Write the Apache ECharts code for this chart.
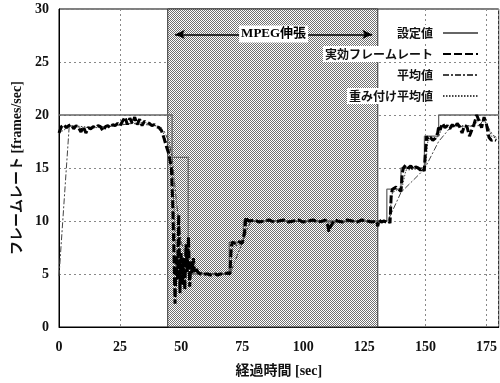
<!DOCTYPE html>
<html>
<head>
<meta charset="utf-8">
<script src="https://cdn.jsdelivr.net/npm/echarts@6/dist/echarts.min.js"></script>
<style>html,body{margin:0;padding:0;background:#fff;}#c{width:500px;height:383px;}</style>
</head>
<body>
<div id="c"></div>
<script>
// ---- data ----
var seriesNames = ['設定値', '実効フレームレート', '平均値', '重み付け平均値'];
var xTicks = [0, 25, 50, 75, 100, 125, 150, 175];
var yTicks = [0, 5, 10, 15, 20, 25, 30];

var setTime = [0, 46.3, 46.3, 52.9, 52.9, 69.7, 69.7, 75.5, 75.5, 134.2, 134.2, 140, 140, 149.6, 149.6, 155.4, 155.4, 180];
var setRate = [20, 20, 16, 16, 5, 5, 8, 8, 10, 10, 13, 13, 15, 15, 18, 18, 20, 20];

var actTime = [0,1,2,3,4,5,6,7,8,9,10,11,12,13,14,15,16,17,18,19,20,21,22,23,24,25,26,27,28,29,30,31,32,33,34,35,36,37,38,39,40,41,42,43,44,45,46,
  46.5,47,47.5,48,48.5,49,49.5,50,50.5,51,51.5,52,52.5,53,53.5,54,54.5,55,55.5,56,
  57,58,59,60,61,62,63,64,65,66,67,68,69,70,
  70.5,71,72,73,74,75,75.5,76,76.5,77,
  78,80,82,84,86,88,90,92,94,96,98,100,102,104,106,108,109,110,110.5,111,112,113,114,116,118,120,122,124,126,128,130,130.5,131,132,133,
  134,135,135.5,136,136.5,137,138,139,140,140.5,141,142,143,144,145,146,147,148,149,149.5,150,150.5,151,152,153,154,155,155.5,156,157,158,159,160,161,162,163,164,165,166,167,168,169,170,171,172,173,174,175,176,177,178,179];
var actRate = [18.3,18.9,19.1,18.8,19.0,19.1,18.7,19.0,18.8,18.4,18.9,18.3,18.8,18.7,18.9,18.8,19.0,18.9,18.5,18.9,19.0,18.8,19.1,19.0,19.2,19.0,19.4,19.8,19.1,19.7,19.2,19.8,19.1,19.6,19.0,19.4,19.3,19.2,19.0,19.1,18.9,18.8,18.5,17.8,17.0,16.3,15.0,
  12.0,7.5,2.2,6.8,4.5,10.6,3.2,7.0,4.0,6.5,3.5,7.8,5.2,8.5,3.8,6.2,5.0,6.5,5.2,5.6,
  5.1,5.0,4.9,5.0,5.0,4.9,5.0,5.0,4.9,5.0,5.0,5.0,5.1,5.0,
  7.6,8.0,7.9,8.1,8.0,7.9,8.0,9.0,10.4,10.1,
  10.0,10.1,9.9,10.0,10.1,9.9,10.0,10.1,9.9,10.0,10.1,9.9,10.0,10.1,9.9,10.0,10.1,9.6,9.0,9.4,9.8,10.1,10.0,9.9,10.1,10.0,9.9,10.1,10.0,9.9,10.0,9.5,10.1,9.9,10.0,
  9.9,10.0,9.8,12.5,13.0,12.9,13.2,13.0,12.8,14.5,15.0,15.3,15.0,15.2,14.9,15.1,15.0,14.8,15.0,14.7,16.5,18.0,17.7,17.9,17.6,17.8,18.3,19.0,18.6,19.2,18.8,19.0,18.7,19.1,18.8,19.2,18.9,18.3,19.0,18.9,18.0,18.6,19.2,20.0,19.4,18.8,19.8,19.1,17.9,17.6,17.7,17.6];

var avgTime = [0, 4.2, 10, 20, 30, 40, 43, 45, 46.3, 48, 50, 53, 56, 60, 70, 78.5, 90, 110, 130, 134.6, 140, 149.6, 155.4, 160.5, 165, 172, 174, 177.5, 179];
var avgRate = [4.8, 19.0, 18.8, 18.9, 19.2, 19.0, 18.5, 17.5, 16.0, 12.0, 8.0, 6.0, 5.3, 5.0, 5.0, 10.0, 10.0, 9.9, 10.0, 10.0, 12.7, 14.9, 17.5, 18.9, 18.9, 19.0, 19.6, 18.1, 17.9];

var wavgTime = [0, 5, 15, 25, 35, 42, 45, 46.5, 48, 50, 52, 54, 57, 70, 71, 75.5, 77, 110, 111, 113, 135, 136.5, 140.5, 142, 150, 151, 155.5, 157, 170, 172, 175, 177, 179];
var wavgRate = [18.3, 19.0, 18.8, 19.1, 19.3, 18.8, 16.8, 14.0, 7.0, 6.0, 6.0, 5.5, 5.1, 5.0, 7.5, 8.0, 10.0, 10.0, 9.3, 9.9, 10.0, 12.7, 13.2, 14.8, 15.0, 17.6, 18.0, 19.0, 19.0, 19.6, 19.2, 18.0, 17.8];

var mpegStart = 44.5, mpegEnd = 130.5;
var arrowFrom = 47.5, arrowTo = 128.2, arrowLevel = 27.6;
var mpegLabel = 'MPEG伸張';

function pairs(t, v) { return t.map(function (x, i) { return [x, v[i]]; }); }

// dotted halftone pattern
var pc = document.createElement('canvas');
pc.width = 2; pc.height = 2;
var pctx = pc.getContext('2d');
pctx.fillStyle = '#ffffff'; pctx.fillRect(0, 0, 2, 2);
pctx.fillStyle = '#707070';
pctx.fillRect(0, 0, 1, 1); pctx.fillRect(1, 1, 1, 1);

var serifCJK = '"Liberation Serif", "Noto Sans CJK JP", serif';
var sansCJK = '"Noto Sans CJK JP", sans-serif';

var chart = echarts.init(document.getElementById('c'), null, {renderer: 'canvas'});
chart.setOption({
  animation: false,
  backgroundColor: '#fff',
  grid: {left: 59, right: 1, top: 9, bottom: 51, show: true, borderColor: '#000', borderWidth: 1, backgroundColor: 'transparent'},
  legend: {
    orient: 'vertical', right: 16, top: 20, align: 'right',
    itemWidth: 35, itemHeight: 12, itemGap: 5,
    data: seriesNames,
    itemStyle: {opacity: 0},
    textStyle: {fontFamily: sansCJK, fontSize: 12, fontWeight: 'bold', color: '#111', backgroundColor: '#fff', padding: [2, 5, 2, 2]}
  },
  xAxis: {
    type: 'value', min: 0, max: 180, interval: 25,
    name: '経過時間 [sec]', nameLocation: 'middle', nameGap: 37,
    nameTextStyle: {fontFamily: serifCJK, fontSize: 14, fontWeight: 'bold', color: '#111'},
    axisLine: {show: true, lineStyle: {color: '#000', width: 1}},
    axisTick: {show: false},
    axisLabel: {fontFamily: '"Liberation Serif", serif', fontSize: 14, fontWeight: 'bold', color: '#111', margin: 13, showMaxLabel: false,
      formatter: function (v) { return xTicks.indexOf(v) >= 0 ? String(v) : ''; }},
    splitLine: {show: true, lineStyle: {color: '#888', type: [2, 3], width: 1}}
  },
  yAxis: {
    type: 'value', min: 0, max: 30, interval: 5,
    name: 'フレームレート [frames/sec]', nameLocation: 'middle', nameGap: 30, nameRotate: 90,
    nameTextStyle: {fontFamily: serifCJK, fontSize: 14, fontWeight: 'bold', color: '#111'},
    axisLine: {show: true, lineStyle: {color: '#000', width: 1}},
    axisTick: {show: false},
    axisLabel: {fontFamily: '"Liberation Serif", serif', fontSize: 14, fontWeight: 'bold', color: '#111', margin: 10,
      formatter: function (v) { return yTicks.indexOf(v) >= 0 ? String(v) : ''; }},
    splitLine: {show: true, lineStyle: {color: '#888', type: [2, 3], width: 1}}
  },
  series: [
    {
      name: seriesNames[0], type: 'line', symbol: 'none', z: 3,
      data: pairs(setTime, setRate),
      lineStyle: {color: '#666', width: 1.3, type: 'solid'},
      itemStyle: {color: '#666'},
      markArea: {
        silent: true,
        itemStyle: {color: {image: pc, repeat: 'repeat'}, borderColor: '#333', borderWidth: 1},
        data: [[{xAxis: mpegStart}, {xAxis: mpegEnd}]]
      },
      markLine: {
        silent: true, symbol: ['arrow', 'arrow'], symbolSize: [7, 10],
        lineStyle: {color: '#000', width: 1.5, type: 'solid'},
        label: {show: true, position: 'middle', formatter: mpegLabel, fontFamily: serifCJK, fontSize: 13, fontWeight: 'bold', color: '#000', backgroundColor: '#fff', padding: [2, 2, 2, 2], distance: -8},
        data: [[{coord: [arrowFrom, arrowLevel]}, {coord: [arrowTo, arrowLevel]}]]
      }
    },
    {
      name: seriesNames[1], type: 'line', symbol: 'none', z: 6,
      data: pairs(actTime, actRate),
      lineStyle: {color: '#000', width: 3, type: [8, 3]},
      itemStyle: {color: '#000'}
    },
    {
      name: seriesNames[2], type: 'line', symbol: 'none', z: 4,
      data: pairs(avgTime, avgRate),
      lineStyle: {color: '#444', width: 1, type: [6, 2, 2, 2]},
      itemStyle: {color: '#444'}
    },
    {
      name: seriesNames[3], type: 'line', symbol: 'none', z: 5,
      data: pairs(wavgTime, wavgRate),
      lineStyle: {color: '#444', width: 1, type: [1.5, 1.5]},
      itemStyle: {color: '#444'}
    }
  ]
});
</script>
</body>
</html>
